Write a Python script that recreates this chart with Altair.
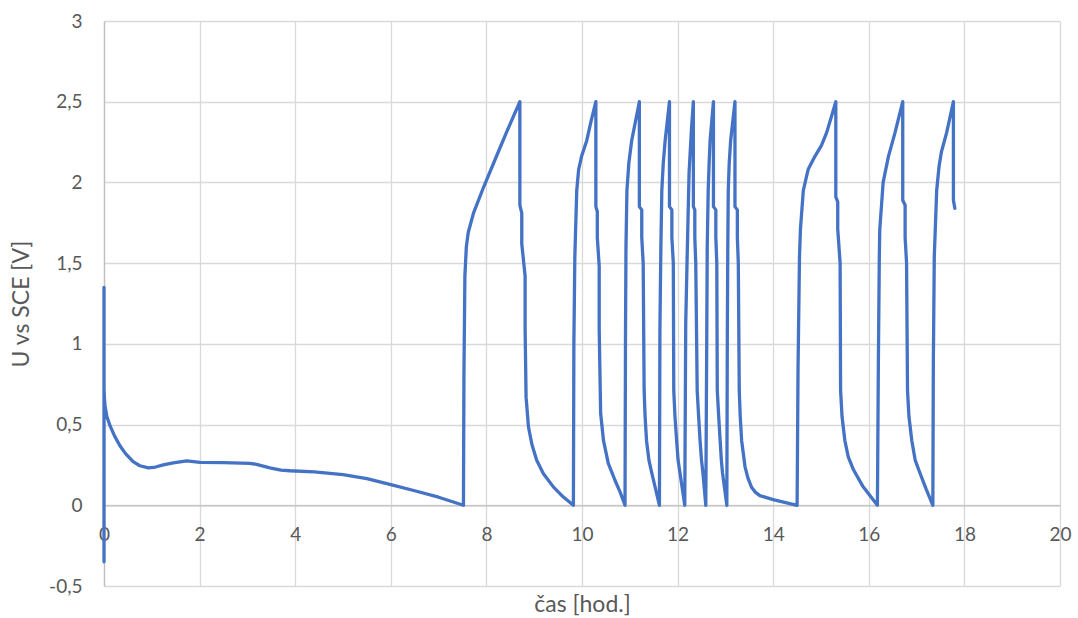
import altair as alt
import pandas as pd

# --- data (time in hours, potential vs SCE in V) ---
rest_t = [0, 0, 0, 0.01, 0.02, 0.06, 0.13, 0.22, 0.33, 0.45, 0.61, 0.75, 0.93, 1.08, 1.24, 1.45, 1.73,
          2.01, 2.5, 3.05, 3.19, 3.47, 3.7, 3.89, 4.4, 5.0, 5.5, 6.0, 6.5, 7.0, 7.52]
rest_u = [1.35, -0.35, 0.72, 0.66, 0.62, 0.55, 0.49, 0.43, 0.37, 0.32, 0.27, 0.245, 0.232, 0.237, 0.25, 0.262, 0.275,
          0.266, 0.264, 0.26, 0.254, 0.232, 0.218, 0.214, 0.207, 0.19, 0.165, 0.128, 0.09, 0.05, 0.0]

c1_t = [7.53, 7.55, 7.58, 7.62, 7.73, 7.94, 8.25, 8.42, 8.70, 8.70, 8.74, 8.74, 8.81, 8.81, 8.83, 8.88, 8.95,
        9.05, 9.19, 9.40, 9.61, 9.82]
c1_u = [0.80, 1.42, 1.60, 1.69, 1.81, 1.97, 2.19, 2.31, 2.50, 1.86, 1.81, 1.62, 1.42, 1.09, 0.67, 0.486, 0.38,
        0.28, 0.197, 0.114, 0.051, 0.0]

c2_t = [9.83, 9.85, 9.89, 9.93, 9.99, 10.10, 10.19, 10.29, 10.29, 10.32, 10.32, 10.36, 10.36, 10.39, 10.45,
        10.55, 10.69, 10.80, 10.90]
c2_u = [1.00, 1.54, 1.95, 2.08, 2.16, 2.26, 2.38, 2.50, 1.85, 1.82, 1.66, 1.48, 1.09, 0.57, 0.40,
        0.26, 0.155, 0.08, 0.0]

c3_t = [10.91, 10.92, 10.94, 10.98, 11.04, 11.20, 11.20, 11.25, 11.25, 11.28, 11.30, 11.32, 11.35, 11.40,
        11.46, 11.54, 11.62]
c3_u = [1.06, 1.60, 1.95, 2.12, 2.26, 2.50, 1.85, 1.83, 1.66, 1.50, 0.71, 0.55, 0.40, 0.28,
        0.20, 0.10, 0.0]

c4_t = [11.63, 11.65, 11.67, 11.70, 11.74, 11.83, 11.83, 11.88, 11.88, 11.91, 11.92, 11.945, 11.98, 12.01,
        12.05, 12.10, 12.15]
c4_u = [1.09, 1.60, 1.95, 2.12, 2.26, 2.50, 1.85, 1.83, 1.66, 1.50, 0.71, 0.55, 0.40, 0.28,
        0.20, 0.10, 0.0]

c5_t = [12.17, 12.20, 12.24, 12.29, 12.33, 12.33, 12.36, 12.36, 12.38, 12.41, 12.44, 12.47, 12.50, 12.53,
        12.56, 12.59]
c5_u = [1.13, 1.54, 2.06, 2.33, 2.50, 1.85, 1.83, 1.66, 1.50, 0.71, 0.55, 0.40, 0.28, 0.20,
        0.10, 0.0]

c6_t = [12.61, 12.62, 12.64, 12.66, 12.68, 12.75, 12.75, 12.80, 12.80, 12.82, 12.83, 12.86, 12.89, 12.915,
        12.94, 12.985, 13.03]
c6_u = [1.04, 1.60, 1.95, 2.12, 2.26, 2.50, 1.85, 1.83, 1.66, 1.50, 0.71, 0.55, 0.40, 0.28,
        0.20, 0.10, 0.0]

c7_t = [13.04, 13.05, 13.06, 13.08, 13.11, 13.20, 13.20, 13.25, 13.25, 13.27, 13.29, 13.31, 13.34, 13.41,
        13.47, 13.55, 13.63, 13.72, 14.00, 14.50]
c7_u = [1.04, 1.60, 1.95, 2.12, 2.26, 2.50, 1.85, 1.83, 1.66, 1.50, 0.71, 0.55, 0.40, 0.24,
        0.17, 0.11, 0.08, 0.06, 0.035, 0.0]

c8_t = [14.52, 14.55, 14.57, 14.63, 14.73, 14.87, 15.01, 15.12, 15.31, 15.31, 15.35, 15.35, 15.40, 15.41,
        15.44, 15.50, 15.57, 15.68, 15.87, 16.18]
c8_u = [0.86, 1.54, 1.71, 1.95, 2.08, 2.16, 2.23, 2.31, 2.50, 1.91, 1.88, 1.71, 1.50, 0.71,
        0.55, 0.40, 0.30, 0.22, 0.12, 0.0]

c9_t = [16.20, 16.22, 16.23, 16.30, 16.41, 16.55, 16.71, 16.71, 16.76, 16.76, 16.79, 16.81, 16.84, 16.90,
        16.97, 17.07, 17.20, 17.34]
c9_u = [0.88, 1.54, 1.71, 2.00, 2.16, 2.31, 2.50, 1.89, 1.86, 1.66, 1.50, 0.71, 0.55, 0.40,
        0.28, 0.20, 0.10, 0.0]

c10_t = [17.35, 17.37, 17.42, 17.47, 17.52, 17.63, 17.77, 17.77, 17.80]
c10_u = [0.88, 1.54, 1.95, 2.10, 2.19, 2.31, 2.50, 1.89, 1.84]

x_ticks = [0, 2, 4, 6, 8, 10, 12, 14, 16, 18, 20]
y_ticks = [-0.5, 0, 0.5, 1, 1.5, 2, 2.5, 3]

segments = [(rest_t, rest_u), (c1_t, c1_u), (c2_t, c2_u), (c3_t, c3_u), (c4_t, c4_u),
            (c5_t, c5_u), (c6_t, c6_u), (c7_t, c7_u), (c8_t, c8_u), (c9_t, c9_u), (c10_t, c10_u)]
rows = []
for seg_t, seg_u in segments:
    for t, u in zip(seg_t, seg_u):
        rows.append({"i": len(rows), "t": t, "u": u})
df = pd.DataFrame(rows)

label_expr = "replace(replace(format(datum.value, '~g'), '.', ','), '\u2212', '-')"

chart = (
    alt.Chart(df)
    .mark_line(color="#4472C4", strokeWidth=3.3, strokeJoin="round", strokeCap="round")
    .encode(
        x=alt.X(
            "t:Q",
            scale=alt.Scale(domain=[0, 20], nice=False, zero=False),
            axis=alt.Axis(
                values=x_ticks,
                title="čas [hod.]",
                offset=-80.7,
                labelPadding=20,
                titleY=99,
                titleBaseline="middle",
                labelFlush=False,
            ),
        ),
        y=alt.Y(
            "u:Q",
            scale=alt.Scale(domain=[-0.5, 3], nice=False, zero=False),
            axis=alt.Axis(
                values=y_ticks,
                labelExpr=label_expr,
                title="U vs SCE [V]",
                labelPadding=22,
                titleX=-83,
                titleY=282.5,
                titleBaseline="middle",
                labelFlush=False,
            ),
        ),
        order="i:Q",
    )
    .properties(
        width=956,
        height=565,
        autosize=alt.AutoSizeParams(type="none"),
        padding={"left": 104, "top": 21, "right": 18, "bottom": 32},
    )
    .configure_view(stroke=None)
    .configure_axis(
        gridColor="#d9d9d9",
        gridWidth=1.3,
        domainColor="#bfbfbf",
        domainWidth=1.3,
        labelColor="#595959",
        titleColor="#595959",
        labelFont="Lato",
        titleFont="Lato",
        labelFontSize=19,
        titleFontSize=23,
        titleFontWeight="normal",
        ticks=False,
        tickSize=0,
    )
)

chart.save("out.html", embed_options={"renderer": "svg", "actions": False})
